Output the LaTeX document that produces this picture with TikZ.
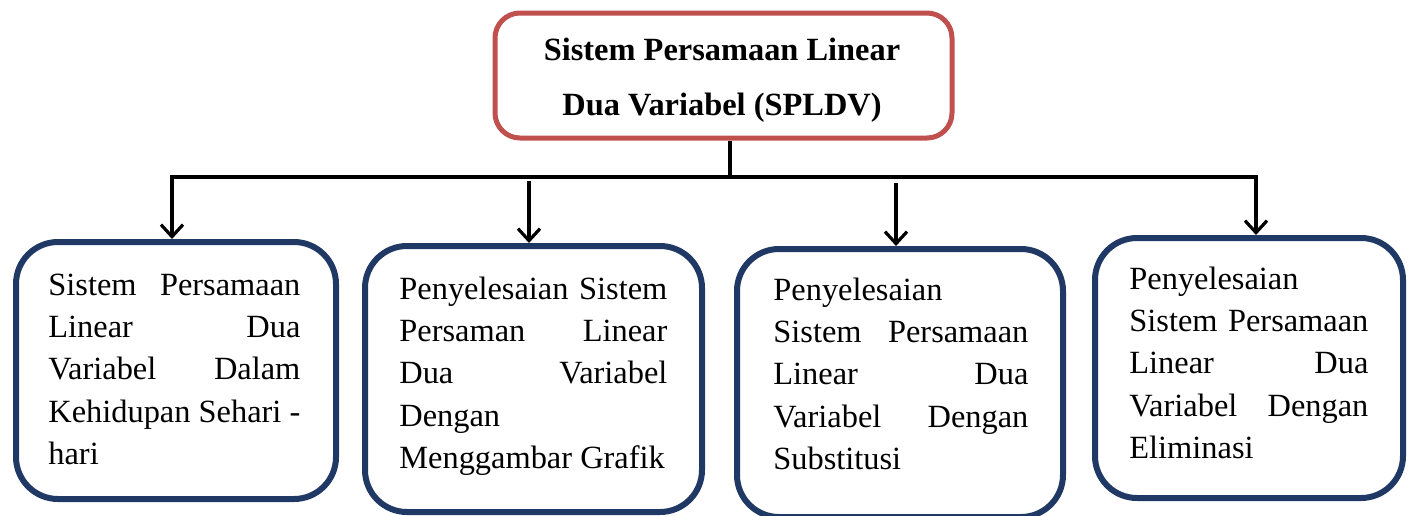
\documentclass[tikz,border=0pt]{standalone}
\usepackage{fontspec}
\setmainfont{Liberation Serif}
\usetikzlibrary{arrows.meta}
\definecolor{boxred}{HTML}{C0504D}
\definecolor{boxblue}{HTML}{1F3864}
\newcommand\jl[2]{\makebox[#1][s]{#2}}
\begin{document}
\begin{tikzpicture}[x=0.5pt,y=-0.5pt,
  topbox/.style={draw=boxred, line width=2.5pt, rounded corners=12.5pt, rectangle, inner sep=0pt},
  subbox/.style={draw=boxblue, line width=3pt, rounded corners=21pt, rectangle, inner sep=0pt},
  txt/.style={anchor=base west, inner sep=0pt, font=\fontsize{16.2}{21.1}\selectfont},
  conn/.style={line width=1.6pt, black},
  tip/.style={arrows={-Straight Barb[length=6pt,width=11pt]}}]
\useasboundingbox (0,0) rectangle (1410,515);

% top box
\node[topbox, minimum width=228.5pt, minimum height=62.5pt] (top) at (723.5,75.5) {};
\node[anchor=base, inner sep=0pt, font=\bfseries\fontsize{16.2}{27.5}\selectfont] (title) at (722,60)
  {\parbox[t]{240pt}{\centering Sistem Persamaan Linear\\Dua Variabel (SPLDV)}};

% sub boxes
\node[subbox, minimum width=160pt, minimum height=128.5pt] (b1) at (176,370.5) {};
\node[subbox, minimum width=168.5pt, minimum height=133pt] (b2) at (533.5,379) {};
\node[subbox, minimum width=163pt, minimum height=134pt] (b3) at (900,383) {};
\node[subbox, minimum width=154pt, minimum height=130pt] (b4) at (1249,368) {};

% texts
\node[txt] (t1) at (48,295.5) {\parbox[t]{126pt}{%
  \jl{126pt}{Sistem Persamaan}\\
  \jl{126pt}{Linear Dua}\\
  \jl{126pt}{Variabel Dalam}\\
  \jl{126pt}{Kehidupan Sehari -}\\
  hari}};
\node[txt] (t2) at (399,299.5) {\parbox[t]{134pt}{%
  \jl{134pt}{Penyelesaian Sistem}\\
  \jl{134pt}{Persaman Linear}\\
  \jl{134pt}{Dua Variabel}\\
  Dengan\\
  Menggambar Grafik}};
\node[txt] (t3) at (773,300.5) {\parbox[t]{127.5pt}{%
  Penyelesaian\\
  \jl{127.5pt}{Sistem Persamaan}\\
  \jl{127.5pt}{Linear Dua}\\
  \jl{127.5pt}{Variabel Dengan}\\
  Substitusi}};
\node[txt] (t4) at (1129,289.5) {\parbox[t]{119.5pt}{%
  Penyelesaian\\
  \jl{119.5pt}{Sistem Persamaan}\\
  \jl{119.5pt}{Linear Dua}\\
  \jl{119.5pt}{Variabel Dengan}\\
  Eliminasi}};

% connectors
\coordinate (j) at (730,177);
\coordinate (hl) at (172,177);
\coordinate (hr) at (1256,177);
\coordinate (a2) at (529,181);
\coordinate (a3) at (896,183);

\draw[conn] (top.south -| j) -- (j);
\draw[conn, arrows={Straight Barb[length=6pt,width=11pt]-Straight Barb[length=6pt,width=11pt]}]
  (b1.north -| hl) |- (hr) -- (b4.north -| hr);
\draw[conn, tip] (a2) -- (b2.north -| a2);
\draw[conn, tip] (a3) -- (b3.north -| a3);
\end{tikzpicture}
\end{document}
